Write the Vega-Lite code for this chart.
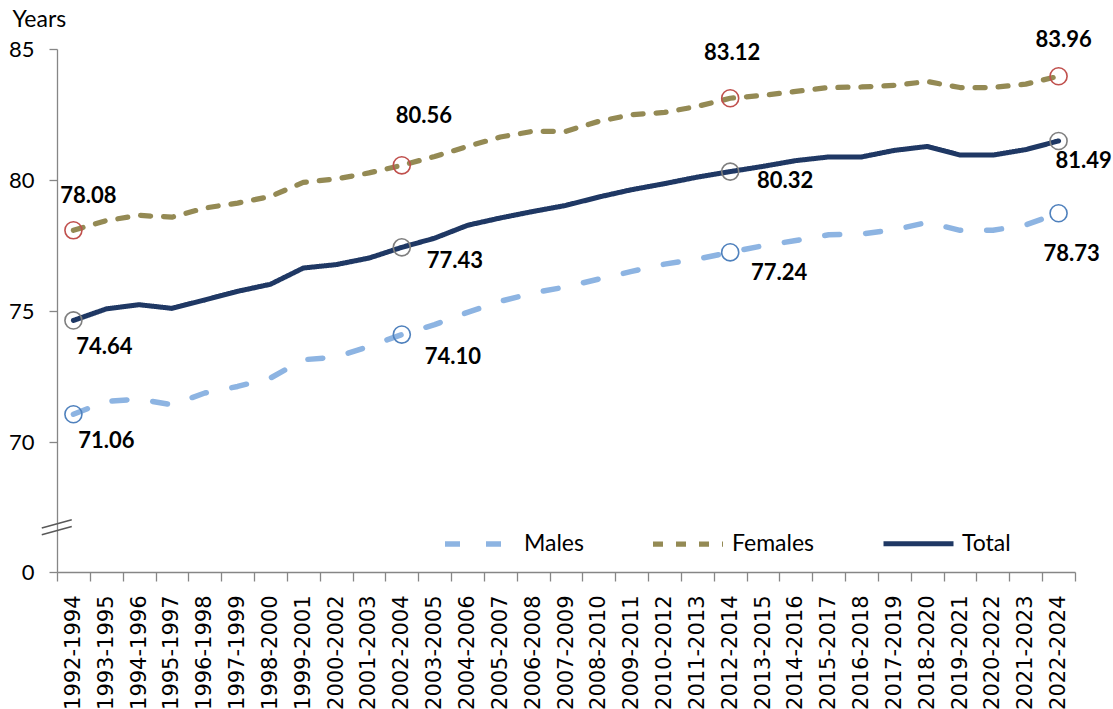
{
  "$schema": "https://vega.github.io/schema/vega-lite/v6.json",
  "width": 1018,
  "height": 523,
  "autosize": {"type": "none"},
  "padding": {"left": 57, "top": 49, "right": 38, "bottom": 137},
  "background": "white",
  "config": {"view": {"stroke": null}, "font": "Lato"},
  "data": {
    "values": [
      {"period": "1992-1994", "Males": 71.06, "Females": 78.08, "Total": 74.64},
      {"period": "1993-1995", "Males": 71.55, "Females": 78.45, "Total": 75.08},
      {"period": "1994-1996", "Males": 71.64, "Females": 78.65, "Total": 75.24},
      {"period": "1995-1997", "Males": 71.42, "Females": 78.58, "Total": 75.1},
      {"period": "1996-1998", "Males": 71.87, "Females": 78.93, "Total": 75.42},
      {"period": "1997-1999", "Males": 72.12, "Females": 79.12, "Total": 75.75},
      {"period": "1998-2000", "Males": 72.44, "Females": 79.37, "Total": 76.02},
      {"period": "1999-2001", "Males": 73.14, "Females": 79.91, "Total": 76.64},
      {"period": "2000-2002", "Males": 73.24, "Females": 80.04, "Total": 76.77},
      {"period": "2001-2003", "Males": 73.65, "Females": 80.27, "Total": 77.02},
      {"period": "2002-2004", "Males": 74.10, "Females": 80.56, "Total": 77.43},
      {"period": "2003-2005", "Males": 74.48, "Females": 80.9, "Total": 77.78},
      {"period": "2004-2006", "Males": 74.95, "Females": 81.28, "Total": 78.27},
      {"period": "2005-2007", "Males": 75.37, "Females": 81.64, "Total": 78.55},
      {"period": "2006-2008", "Males": 75.69, "Females": 81.86, "Total": 78.8},
      {"period": "2007-2009", "Males": 75.92, "Females": 81.86, "Total": 79.03},
      {"period": "2008-2010", "Males": 76.22, "Females": 82.24, "Total": 79.35},
      {"period": "2009-2011", "Males": 76.51, "Females": 82.49, "Total": 79.63},
      {"period": "2010-2012", "Males": 76.79, "Females": 82.58, "Total": 79.86},
      {"period": "2011-2013", "Males": 76.98, "Females": 82.81, "Total": 80.11},
      {"period": "2012-2014", "Males": 77.24, "Females": 83.12, "Total": 80.32},
      {"period": "2013-2015", "Males": 77.49, "Females": 83.23, "Total": 80.52},
      {"period": "2014-2016", "Males": 77.69, "Females": 83.38, "Total": 80.74},
      {"period": "2015-2017", "Males": 77.91, "Females": 83.53, "Total": 80.88},
      {"period": "2016-2018", "Males": 77.94, "Females": 83.55, "Total": 80.88},
      {"period": "2017-2019", "Males": 78.10, "Females": 83.61, "Total": 81.13},
      {"period": "2018-2020", "Males": 78.38, "Females": 83.76, "Total": 81.28},
      {"period": "2019-2021", "Males": 78.08, "Females": 83.53, "Total": 80.95},
      {"period": "2020-2022", "Males": 78.08, "Females": 83.53, "Total": 80.95},
      {"period": "2021-2023", "Males": 78.29, "Females": 83.66, "Total": 81.16},
      {"period": "2022-2024", "Males": 78.73, "Females": 83.96, "Total": 81.49}
    ]
  },
  "transform": [{"fold": ["Males", "Females", "Total"], "as": ["series", "value"]}],
  "encoding": {
    "x": {
      "field": "period", "type": "nominal", "sort": null, "bandPosition": 0.5,
      "scale": {"type": "band", "paddingInner": 0, "paddingOuter": 0},
      "axis": {
        "title": null, "labelAngle": -90, "labelFont": "DejaVu Sans", "labelFontSize": 21,
        "labelColor": "black", "tickBand": "extent", "tickSize": 9, "tickColor": "#868686",
        "domainColor": "#868686", "labelPadding": 14, "domainWidth": 1.3, "tickWidth": 1.3
      }
    },
    "y": {
      "field": "value", "type": "quantitative",
      "scale": {"domain": [0, 70, 85], "range": [523, 393, 0], "nice": false, "zero": false},
      "axis": {
        "values": [0, 70, 75, 80, 85], "title": "Years", "titleAngle": 0, "titleAlign": "left",
        "titleBaseline": "middle", "titleX": -45, "titleY": -30, "titleFont": "Lato",
        "titleFontSize": 23, "titleFontWeight": "normal", "titleColor": "black",
        "labelFont": "Lato", "labelFontSize": 22, "labelColor": "black", "tickSize": 8,
        "labelPadding": 15, "grid": false, "domainColor": "#868686", "tickColor": "#868686",
        "domainWidth": 1.3, "tickWidth": 1.3
      }
    }
  },
  "layer": [
    {
      "mark": {"type": "line", "strokeCap": "round", "strokeJoin": "round"},
      "encoding": {
        "color": {
          "field": "series", "type": "nominal",
          "scale": {"domain": ["Males", "Females", "Total"], "range": ["#8DB4E2", "#948A54", "#1F3864"]},
          "legend": {
            "orient": "none", "legendX": 385, "legendY": 457, "direction": "horizontal",
            "title": null, "symbolType": "stroke", "symbolSize": 4900, "symbolStrokeWidth": 5,
            "labelFont": "Lato", "labelFontSize": 23, "labelOffset": 6, "columnPadding": 58,
            "labelColor": "black", "padding": 0
          }
        },
        "strokeDash": {
          "field": "series", "type": "nominal",
          "scale": {"domain": ["Males", "Females", "Total"], "range": [[15, 26], [10, 13], [1, 0]]}
        },
        "strokeWidth": {
          "field": "series", "type": "nominal",
          "scale": {"domain": ["Males", "Females", "Total"], "range": [5.5, 5, 4.5]},
          "legend": null
        }
      }
    },
    {
      "transform": [{"filter": {"field": "period", "oneOf": ["1992-1994", "2002-2004", "2012-2014", "2022-2024"]}}],
      "mark": {"type": "point", "filled": false, "size": 290, "strokeWidth": 1.6, "opacity": 1},
      "encoding": {
        "stroke": {
          "field": "series", "type": "nominal",
          "scale": {"domain": ["Males", "Females", "Total"], "range": ["#4F81BD", "#C0504D", "#7F7F7F"]},
          "legend": null
        }
      }
    },
    {
      "transform": [{"filter": "datum.series === 'Total' && datum.period === '1992-1994'"}],
      "mark": {"type": "point", "filled": false, "shape": "M-2.11,0.05L-0.11,-0.5M-2.11,0.5L-0.11,-0.05", "size": 900, "strokeWidth": 1.5, "color": "#595959", "opacity": 1},
      "encoding": {"y": {"datum": 24.1, "type": "quantitative"}}
    },
    {
      "transform": [{"filter": "datum.series === 'Females' && datum.period === '1992-1994'"}],
      "mark": {"type": "text", "dx": 15, "dy": -34, "font": "Lato", "fontSize": 22, "fontWeight": "bold", "color": "black", "baseline": "middle", "align": "center"},
      "encoding": {"text": {"field": "value", "type": "quantitative", "format": ".2f"}}
    },
    {
      "transform": [{"filter": "datum.series === 'Females' && datum.period === '2002-2004'"}],
      "mark": {"type": "text", "dx": 22, "dy": -49, "font": "Lato", "fontSize": 22, "fontWeight": "bold", "color": "black", "baseline": "middle", "align": "center"},
      "encoding": {"text": {"field": "value", "type": "quantitative", "format": ".2f"}}
    },
    {
      "transform": [{"filter": "datum.series === 'Females' && datum.period === '2012-2014'"}],
      "mark": {"type": "text", "dx": 2, "dy": -45, "font": "Lato", "fontSize": 22, "fontWeight": "bold", "color": "black", "baseline": "middle", "align": "center"},
      "encoding": {"text": {"field": "value", "type": "quantitative", "format": ".2f"}}
    },
    {
      "transform": [{"filter": "datum.series === 'Females' && datum.period === '2022-2024'"}],
      "mark": {"type": "text", "dx": 5, "dy": -36, "font": "Lato", "fontSize": 22, "fontWeight": "bold", "color": "black", "baseline": "middle", "align": "center"},
      "encoding": {"text": {"field": "value", "type": "quantitative", "format": ".2f"}}
    },
    {
      "transform": [{"filter": "datum.series === 'Total' && datum.period === '1992-1994'"}],
      "mark": {"type": "text", "dx": 31, "dy": 27, "font": "Lato", "fontSize": 22, "fontWeight": "bold", "color": "black", "baseline": "middle", "align": "center"},
      "encoding": {"text": {"field": "value", "type": "quantitative", "format": ".2f"}}
    },
    {
      "transform": [{"filter": "datum.series === 'Total' && datum.period === '2002-2004'"}],
      "mark": {"type": "text", "dx": 53, "dy": 14, "font": "Lato", "fontSize": 22, "fontWeight": "bold", "color": "black", "baseline": "middle", "align": "center"},
      "encoding": {"text": {"field": "value", "type": "quantitative", "format": ".2f"}}
    },
    {
      "transform": [{"filter": "datum.series === 'Total' && datum.period === '2012-2014'"}],
      "mark": {"type": "text", "dx": 55, "dy": 9, "font": "Lato", "fontSize": 22, "fontWeight": "bold", "color": "black", "baseline": "middle", "align": "center"},
      "encoding": {"text": {"field": "value", "type": "quantitative", "format": ".2f"}}
    },
    {
      "transform": [{"filter": "datum.series === 'Total' && datum.period === '2022-2024'"}],
      "mark": {"type": "text", "dx": 25, "dy": 20, "font": "Lato", "fontSize": 22, "fontWeight": "bold", "color": "black", "baseline": "middle", "align": "center"},
      "encoding": {"text": {"field": "value", "type": "quantitative", "format": ".2f"}}
    },
    {
      "transform": [{"filter": "datum.series === 'Males' && datum.period === '1992-1994'"}],
      "mark": {"type": "text", "dx": 33, "dy": 27, "font": "Lato", "fontSize": 22, "fontWeight": "bold", "color": "black", "baseline": "middle", "align": "center"},
      "encoding": {"text": {"field": "value", "type": "quantitative", "format": ".2f"}}
    },
    {
      "transform": [{"filter": "datum.series === 'Males' && datum.period === '2002-2004'"}],
      "mark": {"type": "text", "dx": 51, "dy": 22, "font": "Lato", "fontSize": 22, "fontWeight": "bold", "color": "black", "baseline": "middle", "align": "center"},
      "encoding": {"text": {"field": "value", "type": "quantitative", "format": ".2f"}}
    },
    {
      "transform": [{"filter": "datum.series === 'Males' && datum.period === '2012-2014'"}],
      "mark": {"type": "text", "dx": 49, "dy": 21, "font": "Lato", "fontSize": 22, "fontWeight": "bold", "color": "black", "baseline": "middle", "align": "center"},
      "encoding": {"text": {"field": "value", "type": "quantitative", "format": ".2f"}}
    },
    {
      "transform": [{"filter": "datum.series === 'Males' && datum.period === '2022-2024'"}],
      "mark": {"type": "text", "dx": 13, "dy": 41, "font": "Lato", "fontSize": 22, "fontWeight": "bold", "color": "black", "baseline": "middle", "align": "center"},
      "encoding": {"text": {"field": "value", "type": "quantitative", "format": ".2f"}}
    }
  ]
}
